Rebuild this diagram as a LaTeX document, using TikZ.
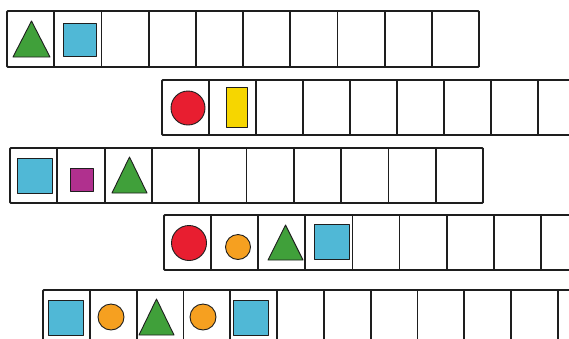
\documentclass[tikz,border=0pt]{standalone}
\usetikzlibrary{calc}
\definecolor{gr}{RGB}{64,160,58}
\definecolor{bl}{RGB}{80,184,214}
\definecolor{rd}{RGB}{232,30,48}
\definecolor{ye}{RGB}{246,214,0}
\definecolor{mg}{RGB}{176,48,142}
\definecolor{or}{RGB}{246,160,32}
\definecolor{ink}{RGB}{30,30,30}
\tikzset{
  frame/.style={draw=ink,line width=1.8pt,rounded corners=1pt},
  divider/.style={draw=ink,line width=1.8pt},
  shp/.style={draw=ink,line width=0.9pt,line join=round},
}
\newcommand{\mystrip}[5]{% x0,y0,w,h,n
  \draw[frame] (#1,#2) rectangle ({#1+#3*#5},{#2+#4});
  \foreach \k in {1,...,#5}{\draw[divider] ({#1+#3*\k},#2) -- ({#1+#3*\k},{#2+#4});}
}
\newcommand{\mysq}[3]{% x,y,size
  \draw[shp,fill=bl] (#1,#2) rectangle ({#1+#3},{#2+#3});}
\newcommand{\mydisc}[4]{% x,y,r,color
  \draw[shp,fill=#4] (#1,#2) circle[radius=#3];}
\begin{document}
\begin{tikzpicture}[x=1pt,y=-1pt]
\useasboundingbox (0,0) rectangle (569,338);
\clip (0,0) rectangle (569,338);
\fill[white] (0,0) rectangle (569,338);
% strips
\mystrip{7}{11}{47.2}{56}{10}
\mystrip{162}{80}{47}{55}{10}
\mystrip{10}{148}{47.3}{55}{10}
\mystrip{164}{215}{47.1}{55}{10}
\mystrip{43}{290}{46.8}{56}{12}
% row 1
\draw[shp,fill=gr] (13,57) -- (31.5,21) -- (50,57) -- cycle;
\mysq{63}{23}{33}
% row 2
\mydisc{188}{108}{17}{rd}
\draw[shp,fill=ye] (226,87) rectangle (247,127);
% row 3
\mysq{17}{158}{35}
\draw[shp,fill=mg] (70,168) rectangle (93,191);
\draw[shp,fill=gr] (112,193) -- (129.5,157) -- (147,193) -- cycle;
% row 4
\mydisc{189}{243}{17.5}{rd}
\mydisc{238}{247}{12.5}{or}
\draw[shp,fill=gr] (268,260) -- (285.5,225) -- (303,260) -- cycle;
\mysq{314}{224}{35}
% row 5
\mysq{48}{300}{35}
\mydisc{111}{317}{13}{or}
\draw[shp,fill=gr] (139,335) -- (156.5,299) -- (174,335) -- cycle;
\mydisc{203}{317}{13}{or}
\mysq{233}{300}{35}
\end{tikzpicture}
\end{document}
